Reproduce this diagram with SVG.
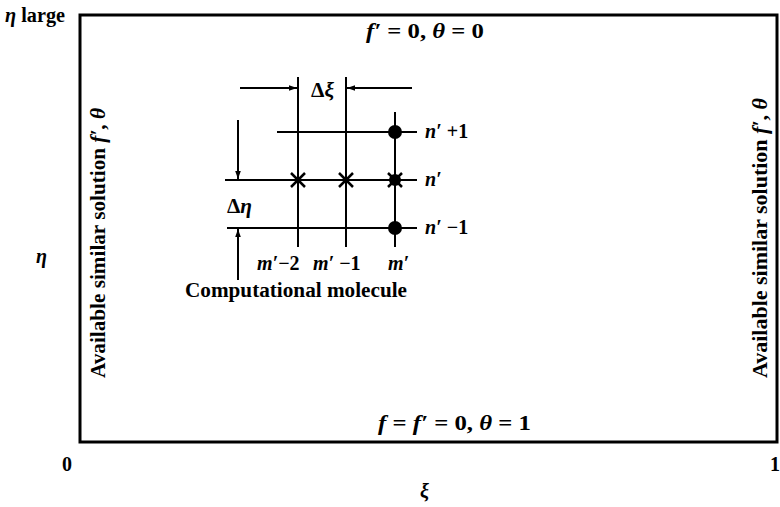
<svg xmlns="http://www.w3.org/2000/svg" width="780" height="507" viewBox="0 0 780 507">
<defs>
<style>
text{font-family:"Liberation Serif","DejaVu Serif",serif;font-weight:bold;fill:#000;}
.t{font-size:20px;}
.m{font-style:italic;}
.ln{stroke:#000;stroke-width:2;fill:none;}
.x{stroke:#000;stroke-width:2.5;fill:none;}
.box{stroke:#000;stroke-width:3;fill:none;}
</style>
<marker id="ah" viewBox="0 0 10 10" refX="10" refY="5" markerWidth="8" markerHeight="8" markerUnits="userSpaceOnUse" orient="auto">
<path d="M0,1.5 L10,5 L0,8.5 Z" fill="#000"/>
</marker>
</defs>
<g id="frame">
<rect class="box" x="80" y="15" width="697" height="427"/>
</g>
<g id="labels">
<text class="t" x="5" y="22" textLength="60" lengthAdjust="spacingAndGlyphs"><tspan class="m">η</tspan> large</text>
<text class="t" x="366" y="38" textLength="118" lengthAdjust="spacingAndGlyphs"><tspan class="m">f′</tspan> = 0, <tspan class="m">θ</tspan> = 0</text>
<text class="t" x="378" y="430" textLength="153" lengthAdjust="spacingAndGlyphs"><tspan class="m">f</tspan> = <tspan class="m">f′</tspan> = 0, <tspan class="m">θ</tspan> = 1</text>
<text class="t m" x="36" y="263">η</text>
<text class="t" x="62" y="471">0</text>
<text class="t" x="770" y="471">1</text>
<text class="t m" x="420" y="498">ξ</text>
<text class="t" transform="translate(105,378) rotate(-90)" textLength="270" lengthAdjust="spacingAndGlyphs">Available similar solution <tspan class="m">f′</tspan>, <tspan class="m">θ</tspan></text>
<text class="t" transform="translate(767,378) rotate(-90)" textLength="280" lengthAdjust="spacingAndGlyphs">Available similar solution <tspan class="m">f′</tspan>, <tspan class="m">θ</tspan></text>
</g>
<g id="connectors">
<line class="ln" x1="298" y1="77" x2="298" y2="247"/>
<line class="ln" x1="346" y1="77" x2="346" y2="247"/>
<line class="ln" x1="395" y1="112" x2="395" y2="247"/>
<line class="ln" x1="277" y1="132" x2="417" y2="132"/>
<line class="ln" x1="225" y1="180" x2="417" y2="180"/>
<line class="ln" x1="227" y1="228" x2="417" y2="228"/>
<line class="ln" x1="240" y1="88" x2="297" y2="88" marker-end="url(#ah)"/>
<line class="ln" x1="412" y1="88" x2="347" y2="88" marker-end="url(#ah)"/>
<line class="ln" x1="238" y1="120" x2="238" y2="179" marker-end="url(#ah)"/>
<line class="ln" x1="238" y1="280" x2="238" y2="229" marker-end="url(#ah)"/>
</g>
<g id="molecule">
<g class="x">
<path d="M291,173 L305,187 M305,173 L291,187"/>
<path d="M339,173 L353,187 M353,173 L339,187"/>
<path d="M388,173 L402,187 M402,173 L388,187"/>
</g>
<circle cx="395" cy="132" r="7" fill="#000"/>
<circle cx="395" cy="180" r="6" fill="#000"/>
<circle cx="395" cy="228" r="7" fill="#000"/>
</g>
<g id="molecule-labels">
<text class="t" x="311" y="97" textLength="23" lengthAdjust="spacingAndGlyphs"><tspan>Δ</tspan><tspan class="m">ξ</tspan></text>
<text class="t" x="227" y="213" textLength="25" lengthAdjust="spacingAndGlyphs"><tspan>Δ</tspan><tspan class="m">η</tspan></text>
<text class="t" x="425" y="138"><tspan class="m">n′</tspan> +1</text>
<text class="t m" x="425" y="186">n′</text>
<text class="t" x="425" y="234"><tspan class="m">n′</tspan> −1</text>
<text class="t" x="257" y="270"><tspan class="m">m′</tspan>−2</text>
<text class="t" x="313" y="270"><tspan class="m">m′</tspan> −1</text>
<text class="t m" x="388" y="270">m′</text>
<text class="t" x="185" y="297" textLength="222" lengthAdjust="spacingAndGlyphs">Computational molecule</text>
</g>
</svg>
